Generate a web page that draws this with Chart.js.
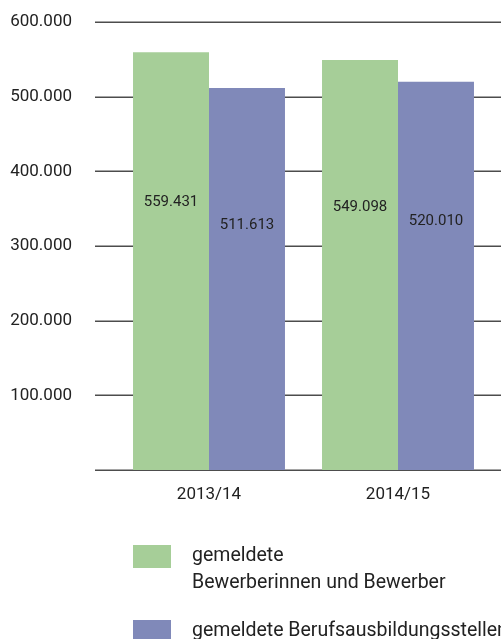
<!DOCTYPE html>
<html lang="de">
<head>
<meta charset="utf-8">
<script src="https://cdn.jsdelivr.net/npm/chart.js@4"></script>
<style>
  html, body { margin: 0; padding: 0; background: #fff; }
  #wrap { width: 501px; height: 639px; position: relative; }
</style>
</head>
<body>
<div id="wrap"><canvas id="myChart"></canvas></div>
<script>
// Chart data
const years = ['2013/14', '2014/15'];
const applicants = [559431, 549098];
const trainingPlaces = [511613, 520010];
const seriesLabels = [
    ['gemeldete', 'Bewerberinnen und Bewerber'],
    ['gemeldete Berufsausbildungsstellen']
];
const seriesColors = ['#a6ce98', '#8089b9'];
const yTicks = [0, 100000, 200000, 300000, 400000, 500000, 600000];

const FONT = "Roboto, 'Liberation Sans', sans-serif";
const TEXT = '#222222';

// German thousands separator
const fmt = v => String(v).replace(/\B(?=(\d{3})+(?!\d))/g, '.');

// horizontal rules behind the bars, running across the full width
const gridLines = {
    id: 'gridLines',
    beforeDatasetsDraw(chart) {
        const {ctx, scales: {y}} = chart;
        ctx.save();
        ctx.strokeStyle = '#4d4d4d';
        ctx.lineWidth = 1.5;
        yTicks.forEach(t => {
            const py = Math.round(y.getPixelForValue(t)) + 0.25;
            ctx.beginPath();
            ctx.moveTo(95, py);
            ctx.lineTo(chart.width, py);
            ctx.stroke();
        });
        ctx.restore();
    }
};

// value labels inside the bars
const barValues = {
    id: 'barValues',
    afterDatasetsDraw(chart) {
        const {ctx, scales: {y}} = chart;
        ctx.save();
        ctx.font = '15px ' + FONT;
        ctx.fillStyle = TEXT;
        ctx.textAlign = 'center';
        ctx.textBaseline = 'middle';
        chart.data.datasets.forEach((ds, i) => {
            chart.getDatasetMeta(i).data.forEach((bar, j) => {
                const v = ds.data[j];
                ctx.fillText(fmt(v), bar.x, y.getPixelForValue(v * 0.64));
            });
        });
        ctx.restore();
    }
};

// legend below the chart, swatch + multi-line text
const sideLegend = {
    id: 'sideLegend',
    afterDraw(chart) {
        const ctx = chart.ctx;
        ctx.save();
        ctx.font = '19.5px ' + FONT;
        ctx.textBaseline = 'middle';
        const rows = [545, 620];
        chart.data.datasets.forEach((ds, i) => {
            const top = rows[i];
            ctx.fillStyle = ds.backgroundColor;
            ctx.fillRect(133, top, 38, 23);
            ctx.fillStyle = TEXT;
            seriesLabels[i].forEach((line, k) => {
                ctx.fillText(line, 192, top + 11 + k * 27);
            });
        });
        ctx.restore();
    }
};

const ctx = document.getElementById('myChart').getContext('2d');
const myChart = new Chart(ctx, {
    type: 'bar',
    data: {
        labels: years,
        datasets: [
            { label: seriesLabels[0].join(' '), data: applicants, backgroundColor: seriesColors[0] },
            { label: seriesLabels[1].join(' '), data: trainingPlaces, backgroundColor: seriesColors[1] }
        ]
    },
    options: {
        responsive: true,
        maintainAspectRatio: false,
        animation: false,
        layout: { padding: { top: 22, right: 8.5, left: 0, bottom: 0 } },
        datasets: { bar: { barPercentage: 1, categoryPercentage: 0.804, borderWidth: 0 } },
        plugins: { legend: { display: false }, tooltip: { enabled: false } },
        scales: {
            x: {
                grid: { display: false, drawTicks: false },
                border: { display: false },
                ticks: { color: TEXT, font: { family: FONT, size: 17 }, padding: 15 },
                afterFit(scale) {
                    scale.height = 169;
                    scale.paddingLeft = 0;
                    scale.paddingRight = 0;
                }
            },
            y: {
                min: 0,
                max: 600000,
                grid: { display: false, drawTicks: false },
                border: { display: false },
                afterBuildTicks(scale) { scale.ticks = yTicks.map(v => ({value: v})); },
                ticks: {
                    color: TEXT,
                    font: { family: FONT, size: 17 },
                    padding: 42.5,
                    callback: v => v === 0 ? '' : fmt(v)
                },
                afterFit(scale) {
                    scale.width = 114.5;
                    scale.paddingTop = 0;
                    scale.paddingBottom = 0;
                }
            }
        }
    },
    plugins: [gridLines, barValues, sideLegend]
});
</script>
</body>
</html>
